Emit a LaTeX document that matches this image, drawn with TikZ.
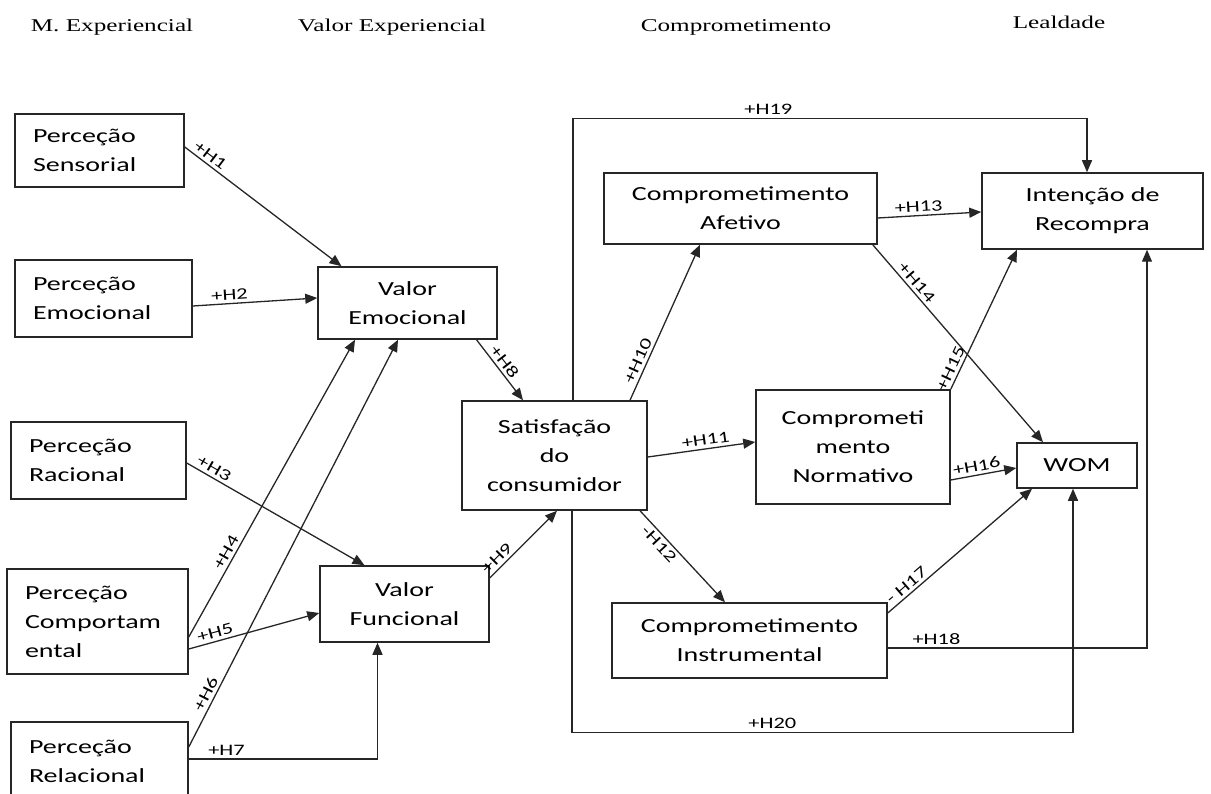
\documentclass[tikz,border=0pt]{standalone}
\usepackage{fontspec}
\usepackage{tikz}
\usetikzlibrary{arrows.meta, positioning, calc}
\newfontfamily\boxfont[FakeStretch=1.4]{Carlito}
\newfontfamily\headfont[FakeStretch=1.4]{Liberation Serif}

\begin{document}
\begin{tikzpicture}[
    x=1pt, y=-1pt,
    box/.style={
        rectangle, draw=black!85, line width=1.5pt, inner sep=0pt,
        align=center, text=black,
        font=\boxfont\fontsize{20}{29}\selectfont
    },
    pbox/.style={box, align=left, inner xsep=18pt, text width=#1},
    arrow/.style={-{Triangle[length=12pt, width=10pt]}, line width=1.3pt, black!85},
    hlab/.style={font=\boxfont\fontsize{16}{18}\selectfont, inner sep=3pt, text=black},
    head/.style={font=\headfont\fontsize{18}{20}\selectfont, text=black}
]
    \useasboundingbox (0,0) rectangle (1211,794);

    %% Column headings
    \node[head] (hexp) at (112,27) {M. Experiencial};
    \node[head] (hval) at (392,27) {Valor Experiencial};
    \node[head] (hcom) at (736,27) {Comprometimento};
    \node[head] (hlea) at (1059,22) {Lealdade};

    %% Experiential marketing
    \node[pbox=133pt, minimum width=169pt, minimum height=73pt] (sens) at (99.5,150.5) {Perceção\\Sensorial};
    \node[pbox=141pt, minimum width=177pt, minimum height=77pt] (emoc) at (103.5,298.5) {Perceção\\Emocional};
    \node[pbox=139pt, minimum width=175pt, minimum height=77pt] (racio) at (98.5,460.5) {Perceção\\Racional};
    \node[pbox=145pt, minimum width=181pt, minimum height=105pt] (comport) at (97.5,621.5) {Perceção\\Comportam\\ental};
    \node[pbox=141pt, minimum width=177pt, minimum height=78pt] (relac) at (99.5,761) {Perceção\\Relacional};

    %% Experiential value
    \node[box, minimum width=179pt, minimum height=72pt] (valem) at (407.5,303) {Valor\\Emocional};
    \node[box, minimum width=169pt, minimum height=76pt] (valfu) at (404.5,604) {Valor\\Funcional};
    \node[box, minimum width=185pt, minimum height=109pt] (satis) at (554.5,455.5) {Satisfação\\do\\consumidor};

    %% Commitment
    \node[box, minimum width=273pt, minimum height=71pt] (afet) at (740.5,208.5) {Comprometimento\\Afetivo};
    \node[box, minimum width=194pt, minimum height=114pt] (norm) at (853,447) {Comprometi\\mento\\Normativo};
    \node[box, minimum width=275pt, minimum height=75pt] (instr) at (749.5,640.5) {Comprometimento\\Instrumental};

    %% Loyalty
    \node[box, minimum width=221pt, minimum height=76pt] (inten) at (1092.5,211) {Intenção de\\Recompra};
    \node[box, minimum width=120pt, minimum height=45pt] (wom) at (1077,465.5) {WOM};

    \draw[arrow] ([yshift=3.5pt]sens.east) -- node[hlab, sloped, above, pos=0.13] {+H1} ([xshift=-66pt]valem.north);
    \draw[arrow] ([yshift=-7.5pt]emoc.east) -- node[hlab, sloped, above, pos=0.3] {+H2} ([yshift=5pt]valem.west);
    \draw[arrow] ([yshift=-2.5pt]racio.east) -- node[hlab, sloped, above, pos=0.13] {+H3} ([xshift=-40pt]valfu.north);
    \draw[arrow] ([yshift=-15.5pt]comport.east) -- node[hlab, sloped, above, pos=0.27] {+H4} ([xshift=-52.5pt]valem.south);
    \draw[arrow] ([yshift=-27.5pt]comport.east) -- node[hlab, sloped, above, pos=0.22] {+H5} ([yshift=-9pt]valfu.west);
    \draw[arrow] ([yshift=14pt]relac.east) -- node[hlab, sloped, above, pos=0.12] {+H6} ([xshift=-9.5pt]valem.south);
    \draw[arrow] ([yshift=2pt]relac.east) -| node[hlab, above, pos=0.1] {+H7} ([xshift=-27pt]valfu.south);
    \draw[arrow] ([xshift=69pt]valem.south) -- node[hlab, sloped, above, pos=0.45] {+H8} ([xshift=-31.5pt]satis.north);
    \draw[arrow] ([yshift=26pt]valfu.east) -- node[hlab, sloped, above, pos=0.2] {+H9} ([xshift=2.5pt]satis.south);
    \draw[arrow] ([xshift=75.5pt]satis.north) -- node[hlab, sloped, above, pos=0.23] {+H10} ([xshift=-40.5pt]afet.south);
    \draw[arrow] ([yshift=-1.5pt]satis.east) -- node[hlab, sloped, above, pos=0.55] {+H11} ([yshift=5pt]norm.west);
    \draw[arrow] ([xshift=85.5pt]satis.south) -- node[hlab, sloped, below, pos=0.3] {-H12} ([xshift=-24.5pt]instr.north);
    \draw[arrow] ([yshift=-9.5pt]afet.east) -- node[hlab, sloped, above, pos=0.4] {+H13} ([yshift=-1pt]inten.west);
    \draw[arrow] ([xshift=-5pt]afet.south east) -- node[hlab, sloped, above, pos=0.22] {+H14} ([xshift=-34pt]wom.north);
    \draw[arrow] (norm.north east) -- node[hlab, sloped, above, pos=0.12] {+H15} ([xshift=-75.5pt]inten.south);
    \draw[arrow] ([yshift=-33pt]norm.east) -- node[hlab, sloped, above, pos=0.42] {+H16} ([yshift=-2.5pt]wom.west);
    \draw[arrow] ([yshift=27.5pt]instr.east) -- node[hlab, sloped, above, pos=0.17] {- H17} ([xshift=-45pt]wom.south);
    \draw[arrow] ([yshift=-7.5pt]instr.east) -| node[hlab, above, pos=0.094] {+H18} ([xshift=54.5pt]inten.south);

    %% Direct paths from satisfaction to loyalty
    \draw[arrow] ([xshift=18.5pt]satis.north) -- ++(0,-282) -| node[hlab, above, pos=0.19] {+H19} ([xshift=-5.5pt]inten.north);
    \draw[arrow] ([xshift=17.5pt]satis.south) -- ++(0,222) -| node[hlab, above, pos=0.2] {+H20} ([xshift=-4pt]wom.south);
\end{tikzpicture}
\end{document}
